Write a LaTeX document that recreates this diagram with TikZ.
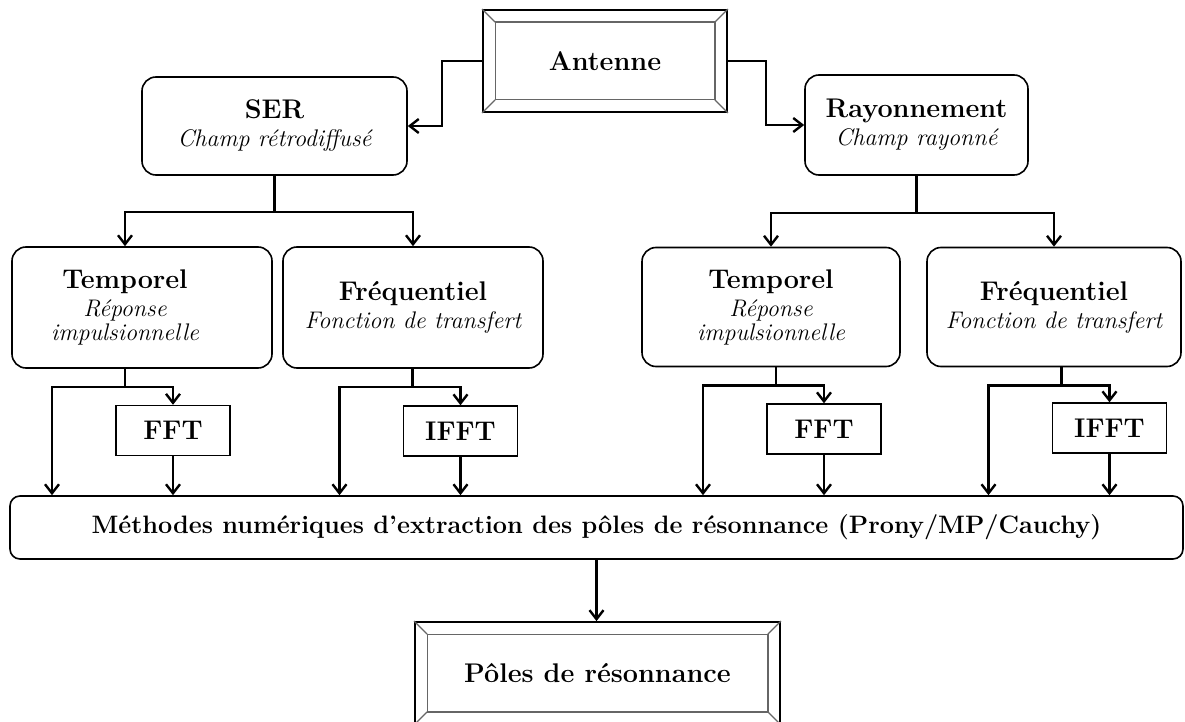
\documentclass[tikz,border=0pt]{standalone}
\usepackage{fontspec}
\usepackage{tikz}
\usetikzlibrary{positioning}
\usetikzlibrary{calc,arrows.meta}
\newcommand{\ttl}[1]{{\fontsize{13.5}{17}\selectfont\bfseries #1}}
\newcommand{\desc}[1]{{\fontsize{12}{15}\selectfont\itshape #1}}
% double frame with bevelled corners
\newcommand{\bevel}[1]{%
  \draw[gray!80!black,line width=0.6pt] ($(#1.north west)+(13,-13)$) rectangle ($(#1.south east)+(-13,13)$);
  \draw[gray!80!black,line width=0.6pt] (#1.north west) -- ++(13,-13) (#1.north east) -- ++(-13,-13)
    (#1.south west) -- ++(13,13) (#1.south east) -- ++(-13,13);}

\begin{document}
\begin{tikzpicture}[x=0.5pt,y=0.5pt,
  rbox/.style={draw,rounded corners=7pt,line width=0.8pt,align=center},
  sqbox/.style={draw,line width=0.7pt,minimum width=57pt,minimum height=25pt},
  frame/.style={draw,line width=0.9pt,align=center},
  arr/.style={-{Straight Barb[length=4.5pt,width=7pt]},line width=1.2pt}]
  \useasboundingbox (0,0) rectangle (1185,-722);
  % top
  \node[frame,minimum width=122pt,minimum height=51pt] (ant) at (605,-61) {\ttl{Antenne}};
  \bevel{ant}
  \node[rbox,minimum width=132.5pt,minimum height=49pt] (ser) at (274.5,-126)
    {\ttl{SER}\\[2pt] \desc{Champ rétrodiffusé}};
  \node[rbox,minimum width=111.5pt,minimum height=50pt] (ray) at (916.5,-125)
    {\ttl{Rayonnement}\\[2pt] \desc{Champ rayonné}};
  \draw[arr] (ant.west) -- ++(-40,0) |- (ser.east);
  \draw[arr] (ant.east) -- ++(38,0) |- (ray.west);
  % domains
  \node[rbox,minimum width=130pt,minimum height=60.5pt] (tempL) at (142,-307.5) {};
  \node[align=center] (tempLtxt) at (125,-307.5)
    {\ttl{Temporel}\\[2pt] \desc{Réponse}\\ \desc{impulsionnelle}};
  \node[rbox,minimum width=130pt,minimum height=60.5pt] (freqL) at (413,-307.5)
    {\ttl{Fréquentiel}\\[2pt] \desc{Fonction de transfert}};
  \node[rbox,minimum width=129pt,minimum height=59.5pt] (tempR) at (771,-307)
    {\ttl{Temporel}\\[2pt] \desc{Réponse}\\ \desc{impulsionnelle}};
  \node[rbox,minimum width=127pt,minimum height=59.5pt] (freqR) at (1054,-307)
    {\ttl{Fréquentiel}\\[2pt] \desc{Fonction de transfert}};
  \draw[arr] (ser.south) -- ++(0,-36) -| (tempLtxt |- tempL.north);
  \draw[arr] (ser.south) ++(0,-36) -| (freqL.north);
  \draw[arr] (ray.south) -- ++(0,-37) -| (tempR.north);
  \draw[arr] (ray.south) ++(0,-37) -| (freqR.north);
  % transforms
  \node[sqbox] (fftL) at (173,-430.5) {\ttl{FFT}};
  \node[sqbox] (ifftL) at (460.5,-431) {\ttl{IFFT}};
  \node[sqbox] (fftR) at (824,-429) {\ttl{FFT}};
  \node[sqbox] (ifftR) at (1109.5,-428) {\ttl{IFFT}};
  \node[rbox,rounded corners=5pt,minimum width=586.5pt,minimum height=31.5pt] (met) at (596.5,-527.5)
    {\fontsize{12.6}{15}\selectfont\bfseries Méthodes numériques d’extraction des pôles de résonnance (Prony/MP/Cauchy)};
  \foreach \b/\f in {tempL/fftL,freqL/ifftL,tempR/fftR,freqR/ifftR} {
    \path (\f.north) ++(-48,0) coordinate (d) (\f.north) ++(-121,0) coordinate (j);
    \draw[arr] (d |- \b.south) -- ++(0,-18) -| (\f.north);
    \draw[arr] (d |- \b.south) ++(0,-18) -| (j |- met.north);
    \draw[arr] (\f.south) -- (\f.south |- met.north);
  }
  % result
  \node[frame,minimum width=182.5pt,minimum height=51pt] (pol) at (597.5,-673) {\ttl{Pôles de résonnance}};
  \bevel{pol}
  \draw[arr] (met.south) -- (met.south |- pol.north);
\end{tikzpicture}
\end{document}
